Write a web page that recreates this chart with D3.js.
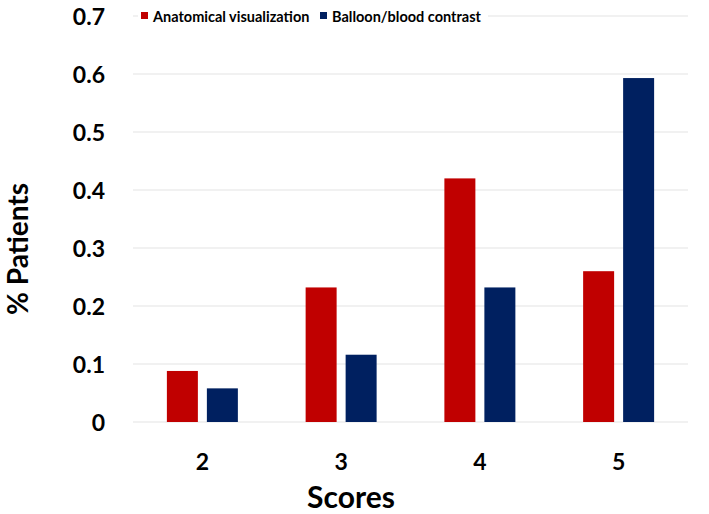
<!DOCTYPE html>
<html>
<head>
<meta charset="utf-8">
<script src="https://cdn.jsdelivr.net/npm/d3@7"></script>
<style>
  body { margin: 0; background: #fff; }
  text { font-family: Lato, "Open Sans", sans-serif; font-weight: bold; fill: #000; }
</style>
</head>
<body>
<div id="chart"></div>
<script>
var scores = ["2", "3", "4", "5"]
var series = ["Anatomical visualization", "Balloon/blood contrast"]
var colors = ["#C00000", "#002060"]
var anatomical = [0.088, 0.232, 0.42, 0.26]
var balloon = [0.058, 0.116, 0.232, 0.593]
var yTicks = [0, 0.1, 0.2, 0.3, 0.4, 0.5, 0.6, 0.7]

var width = 709, height = 514
var margin = {top: 16, right: 21, bottom: 92, left: 133}

var svg = d3.select("#chart").append("svg")
    .attr("width", width)
    .attr("height", height)

var x0 = d3.scaleBand()
    .domain(scores)
    .range([margin.left, width - margin.right])

var x1 = d3.scaleBand()
    .domain(series)
    .range([0, x0.bandwidth()])
    .paddingInner(0.225)
    .paddingOuter(0.847)

var y = d3.scaleLinear()
    .domain([0, 0.7])
    .range([height - margin.bottom, margin.top])

// gridlines
svg.append("g")
  .selectAll("line")
  .data(yTicks)
  .enter().append("line")
  .attr("x1", margin.left)
  .attr("x2", width - margin.right)
  .attr("y1", function(d){ return y(d) })
  .attr("y2", function(d){ return y(d) })
  .attr("stroke", "#e4e4e4")
  .attr("stroke-width", 1.2)

// y axis labels
var yAxis = d3.axisLeft(y)
    .tickValues(yTicks)
    .tickSize(0)
    .tickPadding(28)
    .tickFormat(function(d){ return d === 0 ? "0" : d3.format(".1f")(d) })

svg.append("g")
  .attr("transform", "translate(" + margin.left + ",0)")
  .call(yAxis)
  .call(function(g){ g.select(".domain").remove() })
  .selectAll("text")
  .attr("font-size", 23)
  .attr("font-family", "Lato, sans-serif")
  .attr("font-weight", "bold")
  .attr("dy", "0.36em")

// x axis labels
var xAxis = d3.axisBottom(x0).tickSize(0).tickPadding(32)
svg.append("g")
  .attr("transform", "translate(0," + y(0) + ")")
  .call(xAxis)
  .call(function(g){ g.select(".domain").remove() })
  .selectAll("text")
  .attr("font-size", 23)
  .attr("font-family", "Lato, sans-serif")
  .attr("font-weight", "bold")

// bars
var data = scores.map(function(s, i){
  return {score: s, values: [
    {key: series[0], value: anatomical[i], color: colors[0]},
    {key: series[1], value: balloon[i], color: colors[1]}
  ]}
})

var group = svg.append("g")
  .selectAll("g")
  .data(data)
  .enter().append("g")
  .attr("transform", function(d){ return "translate(" + x0(d.score) + ",0)" })

group.selectAll("rect")
  .data(function(d){ return d.values })
  .enter().append("rect")
  .attr("x", function(d){ return x1(d.key) })
  .attr("width", x1.bandwidth())
  .attr("y", function(d){ return y(d.value) })
  .attr("height", function(d){ return y(0) - y(d.value) })
  .attr("fill", function(d){ return d.color })

// axis titles
svg.append("text")
  .attr("x", 351)
  .attr("y", 508)
  .attr("text-anchor", "middle")
  .attr("font-size", 30)
  .text("Scores")

svg.append("text")
  .attr("transform", "translate(28,249) rotate(-90)")
  .attr("text-anchor", "middle")
  .attr("font-size", 28)
  .text("% Patients")

// legend
svg.append("rect")
  .attr("x", 138).attr("y", 6).attr("width", 350).attr("height", 22)
  .attr("fill", "#fff")
var legX = [141, 320]
series.forEach(function(s, i){
  svg.append("rect")
    .attr("x", legX[i]).attr("y", 12)
    .attr("width", 7).attr("height", 7)
    .attr("fill", colors[i])
  svg.append("text")
    .attr("x", legX[i] + 12)
    .attr("y", 22)
    .attr("font-size", 14.5)
    .text(s)
})
</script>
</body>
</html>
